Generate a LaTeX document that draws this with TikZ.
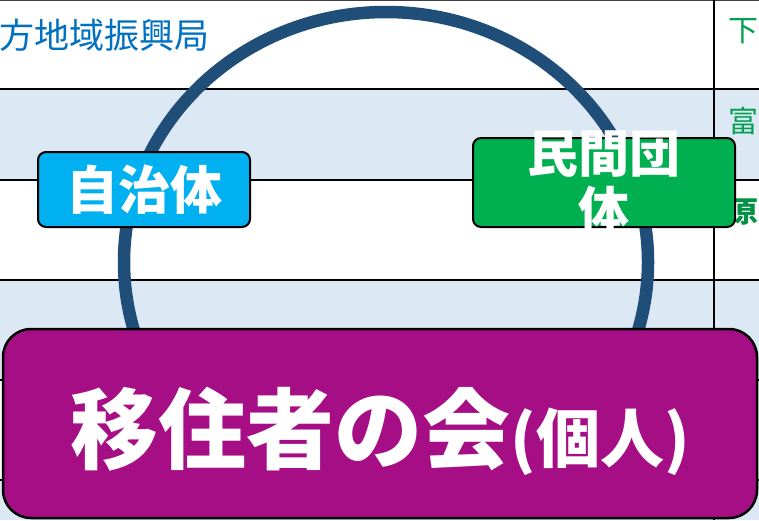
\documentclass[tikz,border=0pt]{standalone}
\usepackage{fontspec}
\usepackage{xcolor}
\usepackage{tikz}
\newfontfamily\jp{Noto Sans CJK JP}
\definecolor{rowblue}{RGB}{221,232,245}
\definecolor{ringblue}{RGB}{31,78,121}
\definecolor{officeblue}{RGB}{0,112,192}
\definecolor{townsgreen}{RGB}{0,160,80}
\definecolor{townsdark}{RGB}{0,145,68}
\definecolor{cityblue}{RGB}{0,176,240}
\definecolor{privgreen}{RGB}{0,176,80}
\definecolor{settlerpurple}{RGB}{166,14,134}

\begin{document}
\begin{tikzpicture}[x=1pt,y=-1pt,
  box/.style={draw=black,line width=2pt,rounded corners=8pt,inner sep=0pt},
  boxtext/.style={text=white,font=\jp\bfseries},
  town/.style={anchor=west,inner sep=0pt,font=\jp\fontsize{30}{30}\selectfont}]
\useasboundingbox (0,0) rectangle (759,520);
% table rows behind
\fill[white] (0,0) rectangle (759,520);
\fill[rowblue] (0,89) rectangle (759,180);
\fill[rowblue] (0,280) rectangle (759,380);
\fill[rowblue] (0,480) rectangle (759,520);
\foreach \y in {89,180,280,380,480} \draw[line width=1.8pt] (0,\y) -- (759,\y);
\draw[darkgray,line width=1.5pt] (0,0) -- (759,0);
\draw[line width=1.8pt] (714,0) -- (714,520);
\node[anchor=west,inner sep=0pt,text=officeblue,font=\jp\fontsize{35}{35}\selectfont] (office) at (-1,35) {方地域振興局};
\node[town,text=townsgreen] (shimo) at (728,31) {下};
\node[town,text=townsgreen] (tomi) at (728,121) {富};
\node[town,text=townsdark,font=\jp\bfseries\fontsize{29}{29}\selectfont] (hara) at (729,212) {原};
% ring
\draw[ringblue,line width=12.5pt] (386,262) ellipse (262pt and 250pt);
% boxes
\node[box,fill=cityblue,minimum width=212pt,minimum height=75pt,boxtext,font=\jp\bfseries\fontsize{52}{52}\selectfont] (city) at (144,189.5) {自治体};
\node[box,fill=privgreen,minimum width=262pt,minimum height=89pt,
  label={[boxtext,align=center,font=\jp\bfseries\fontsize{51}{57}\selectfont]center:民間団\\体}] (private) at (604,182.5) {};
\node[box,fill=settlerpurple,rounded corners=28pt,line width=2.5pt,minimum width=754pt,minimum height=189pt,
  label={[boxtext,yshift=-8pt]center:{\fontsize{88}{88}\selectfont 移住者の会}{\fontsize{64}{64}\selectfont(個人)}}] (settlers) at (380,423.5) {};
\end{tikzpicture}
\end{document}
